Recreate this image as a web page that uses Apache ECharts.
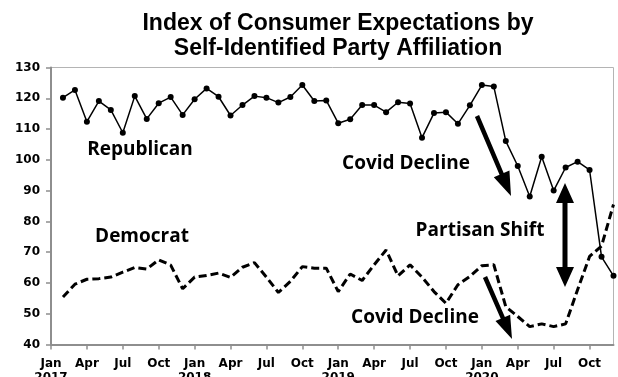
<!DOCTYPE html>
<html>
<head>
<meta charset="utf-8">
<script src="https://cdn.jsdelivr.net/npm/echarts@6/dist/echarts.min.js"></script>
<style>html,body{margin:0;padding:0;background:#fff;}#c{width:618px;height:377px;}</style>
</head>
<body>
<div id="c"></div>
<script>
// Tick labels
var monthTicks = ['Jan', 'Apr', 'Jul', 'Oct'];
var years = ['2017', '2018', '2019', '2020'];
// Categories: every month Jan 2017 .. Dec 2020
var allMonths = ['Jan','Feb','Mar','Apr','May','Jun','Jul','Aug','Sep','Oct','Nov','Dec'];
var categories = [];
years.forEach(function (y) { allMonths.forEach(function (m) { categories.push(m + ' ' + y); }); });

// Series values, Feb 2017 .. Dec 2020
var republican = [120.2, 122.7, 112.4, 119.1, 116.2, 108.8, 120.7, 113.3, 118.4, 120.4, 114.6, 119.7,
  123.2, 120.5, 114.4, 117.8, 120.7, 120.2, 118.6, 120.4, 124.3, 119.1, 119.3,
  111.9, 113.2, 117.8, 117.8, 115.5, 118.7, 118.3, 107.2, 115.2, 115.5, 111.7, 117.7,
  124.3, 123.8, 106.1, 98.0, 88.1, 101.0, 90.0, 97.5, 99.4, 96.7, 68.5, 62.3];
var democrat = [55.4, 59.6, 61.2, 61.4, 61.9, 63.5, 65.0, 64.5, 67.5, 65.8, 58.1, 61.9,
  62.4, 63.2, 61.8, 65.1, 66.6, 61.9, 56.9, 60.5, 65.3, 64.8, 64.8,
  57.2, 62.9, 60.8, 65.9, 70.7, 62.3, 65.9, 61.9, 57.2, 53.4, 59.4, 62.1,
  65.6, 65.9, 52.3, 49.1, 45.8, 46.7, 45.8, 46.7, 57.8, 68.6, 72.0, 85.5];
var firstIndex = 1; // data begins Feb 2017

function pad(arr) {
  var out = [];
  for (var i = 0; i < firstIndex; i++) out.push(null);
  return out.concat(arr);
}

function arrowPoly(x1, y1, x2, y2, L, W, w, both) {
  var dx = x2 - x1, dy = y2 - y1, len = Math.sqrt(dx * dx + dy * dy);
  var ux = dx / len, uy = dy / len, nx = -uy, ny = ux;
  var pts = [];
  var bx = x2 - ux * L, by = y2 - uy * L;
  var ax = both ? x1 + ux * L : x1, ay = both ? y1 + uy * L : y1;
  if (both) {
    pts.push([x1, y1]);
    pts.push([ax - nx * W / 2, ay - ny * W / 2]);
    pts.push([ax - nx * w / 2, ay - ny * w / 2]);
  } else {
    pts.push([x1 - nx * w / 2, y1 - ny * w / 2]);
  }
  pts.push([bx - nx * w / 2, by - ny * w / 2]);
  pts.push([bx - nx * W / 2, by - ny * W / 2]);
  pts.push([x2, y2]);
  pts.push([bx + nx * W / 2, by + ny * W / 2]);
  pts.push([bx + nx * w / 2, by + ny * w / 2]);
  if (both) {
    pts.push([ax + nx * w / 2, ay + ny * w / 2]);
    pts.push([ax + nx * W / 2, ay + ny * W / 2]);
  } else {
    pts.push([x1 + nx * w / 2, y1 + ny * w / 2]);
  }
  return { type: 'polygon', shape: { points: pts }, style: { fill: '#000' }, z: 100 };
}

function label(text, x, y) {
  return { type: 'text', x: x, y: y, z: 100,
    style: { text: text, fill: '#000', font: 'bold 19px "Open Sans"', textAlign: 'center', textVerticalAlign: 'middle' } };
}

var chart = echarts.init(document.getElementById('c'), null, { renderer: 'canvas' });
var axisFont = 'DejaVu Sans';
chart.setOption({
  animation: false,
  backgroundColor: '#fff',
  title: {
    text: 'Index of Consumer Expectations by\nSelf-Identified Party Affiliation',
    left: 333, top: 6, textAlign: 'center',
    textStyle: { fontFamily: 'Liberation Sans', fontWeight: 'bold', fontSize: 23, lineHeight: 25, color: '#000' }
  },
  grid: { left: 51, right: 4.5, top: 67.5, bottom: 32.5, show: true, borderColor: '#b4b4b4', borderWidth: 1,
    containLabel: false, outerBoundsMode: 'none' },
  xAxis: {
    type: 'category', data: categories, boundaryGap: false,
    axisLine: { lineStyle: { color: '#8e8e8e', width: 2 } },
    axisTick: { show: true, length: 5, interval: function (i) { return i % 3 === 0; }, lineStyle: { color: '#8e8e8e', width: 1.5 } },
    axisLabel: {
      interval: function (i) { return i % 3 === 0; },
      margin: 12, color: '#000', fontFamily: axisFont, fontWeight: 'bold', fontSize: 12, lineHeight: 14,
      formatter: function (v, i) {
        var m = monthTicks[(i / 3) % 4];
        return (i % 12 === 0) ? m + '\n' + years[i / 12] : m;
      }
    },
    splitLine: { show: false }
  },
  yAxis: {
    type: 'value', min: 40, max: 130, interval: 10,
    axisLine: { show: true, lineStyle: { color: '#8e8e8e', width: 2 } },
    axisTick: { show: true, length: 5, lineStyle: { color: '#8e8e8e', width: 1.5 } },
    axisLabel: { margin: 11, color: '#000', fontFamily: axisFont, fontWeight: 'bold', fontSize: 12 },
    splitLine: { show: false }
  },
  series: [
    { name: 'Republican', type: 'line', data: pad(republican), connectNulls: false,
      symbol: 'circle', symbolSize: 6, showAllSymbol: true,
      lineStyle: { color: '#000', width: 1.5 }, itemStyle: { color: '#000' } },
    { name: 'Democrat', type: 'line', data: pad(democrat), symbol: 'none',
      lineStyle: { color: '#000', width: 3, type: [8, 4] } }
  ],
  graphic: [
    label('Republican', 140, 150),
    label('Democrat', 142, 237),
    label('Covid Decline', 406, 164),
    label('Partisan Shift', 480, 231),
    label('Covid Decline', 415, 318),
    arrowPoly(477, 116, 511, 196, 24, 17, 4.5, false),
    arrowPoly(485, 277, 512, 339, 23, 16, 4.5, false),
    arrowPoly(565, 183, 565, 287, 20, 18, 5, true)
  ]
});
</script>
</body>
</html>
